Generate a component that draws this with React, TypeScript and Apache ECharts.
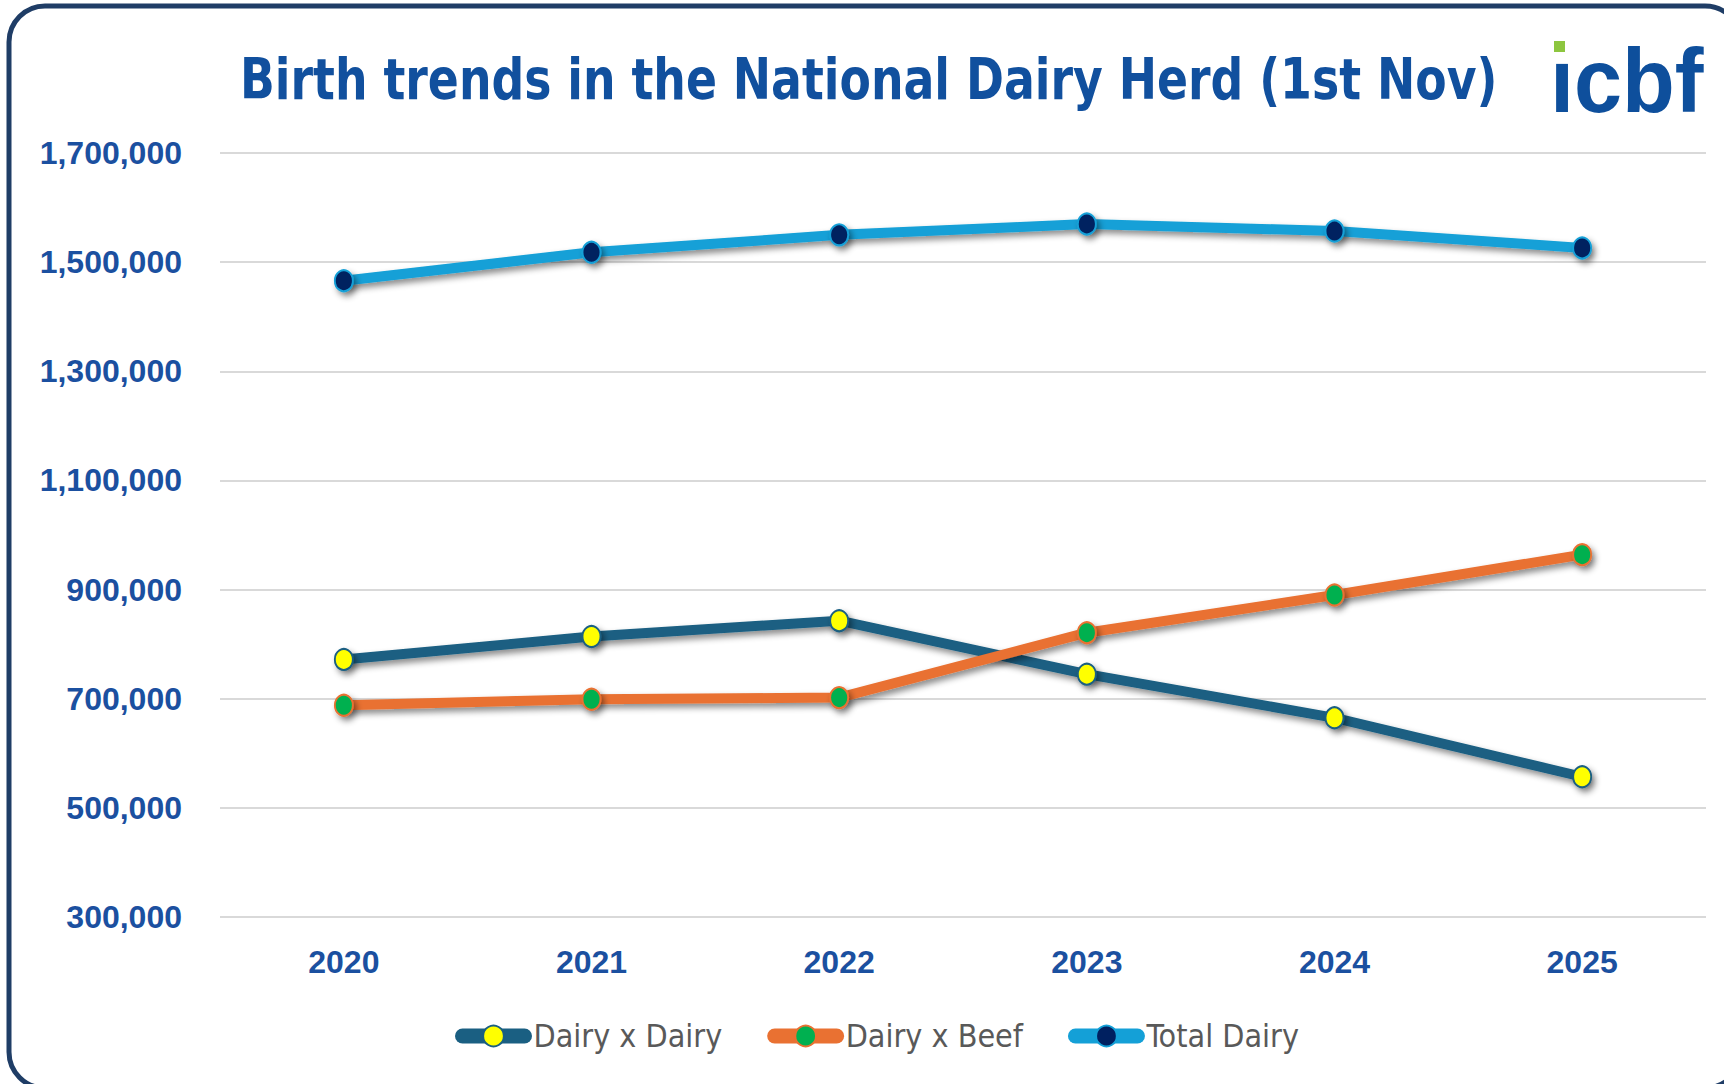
import React, { useEffect, useRef } from "react";
import * as echarts from "echarts";

const years = ["2020", "2021", "2022", "2023", "2024", "2025"];
const dairyXDairy = [772000, 814000, 843000, 745000, 665000, 557000];
const dairyXBeef = [688000, 699000, 702000, 821000, 890000, 964000];
const totalDairy = [1466000, 1518000, 1550000, 1570000, 1557000, 1526000];
const yMin = 300000;
const yMax = 1700000;
const yStep = 200000;
const titleText = "Birth trends in the National Dairy Herd (1st Nov)";
const legendNames = ["Dairy x Dairy", "Dairy x Beef", "Total Dairy"];

const shadow = {
  shadowColor: "rgba(0,0,0,0.45)",
  shadowBlur: 6,
  shadowOffsetX: 3,
  shadowOffsetY: 4,
};

function mkSeries(name: string, data: number[], line: string, fill: string) {
  return {
    name,
    type: "line",
    data,
    symbol: "circle",
    symbolSize: [18, 21],
    lineStyle: { color: line, width: 10, cap: "round", join: "round", ...shadow },
    itemStyle: { color: fill, borderColor: line, borderWidth: 2, ...shadow },
    emphasis: { disabled: true },
  };
}

export default function App() {
  const ref = useRef<HTMLDivElement>(null);
  useEffect(() => {
    if (!ref.current) return;
    const chart = echarts.init(ref.current, null, { renderer: "svg" });
    const labelFont = "'Liberation Sans', Arial, sans-serif";
    const narrow = "'DejaVu Sans Condensed', 'Liberation Sans', sans-serif";
    chart.setOption({
      animation: false,
      backgroundColor: "#ffffff",
      grid: { left: 220, right: 18, top: 153, bottom: 167 },
      xAxis: {
        type: "category",
        data: years,
        boundaryGap: true,
        axisLine: { show: false },
        axisTick: { show: false },
        axisLabel: {
          color: "#1B50A0",
          fontFamily: labelFont,
          fontWeight: "bold",
          fontSize: 32,
          margin: 29,
        },
      },
      yAxis: {
        type: "value",
        min: yMin,
        max: yMax,
        interval: yStep,
        axisLine: { show: false },
        axisTick: { show: false },
        splitLine: { lineStyle: { color: "#D9D9D9", width: 2 } },
        axisLabel: {
          color: "#1B50A0",
          fontFamily: labelFont,
          fontWeight: "bold",
          fontSize: 32,
          margin: 38,
          formatter: (v: number) => v.toLocaleString("en-US"),
        },
      },
      legend: {
        left: 450,
        top: 1015,
        itemWidth: 62,
        itemHeight: 26,
        itemGap: 45,
        textStyle: { color: "#595959", fontFamily: narrow, fontSize: 32, padding: [0, 0, 0, 4] },
        lineStyle: { width: 15, cap: "round" },
        itemStyle: { borderWidth: 2 },
        data: legendNames,
      },
      graphic: [
        {
          type: "rect",
          z: -10,
          shape: { x: 9, y: 6, width: 1732, height: 1082, r: 36 },
          style: { fill: "#ffffff", stroke: "#1F3D66", lineWidth: 5 },
          silent: true,
        },
        {
          type: "text",
          x: 240,
          y: 79,
          scaleX: 0.892,
          style: {
            text: titleText,
            fill: "#11509E",
            font: `bold 57px ${narrow}`,
            textAlign: "left",
            textVerticalAlign: "middle",
          },
        },
        {
          type: "rect",
          shape: { x: 1554, y: 41, width: 11, height: 11 },
          style: { fill: "#8DC63F" },
        },
        {
          type: "text",
          x: 1550,
          y: 126,
          scaleX: 0.96,
          style: {
            text: "ıcbf",
            fill: "#0E4F9C",
            font: `bold 90px 'Liberation Sans', Arial, sans-serif`,
            textAlign: "left",
            textVerticalAlign: "bottom",
          },
        },
      ],
      series: [
        mkSeries(legendNames[0], dairyXDairy, "#1A5F82", "#FFFF00"),
        mkSeries(legendNames[1], dairyXBeef, "#E97132", "#00B050"),
        mkSeries(legendNames[2], totalDairy, "#14A0D7", "#002060"),
      ],
    });
    return () => chart.dispose();
  }, []);
  return (
    <div
      ref={ref}
      style={{ position: "absolute", left: 0, top: 0, width: 1724, height: 1084 }}
    />
  );
}
